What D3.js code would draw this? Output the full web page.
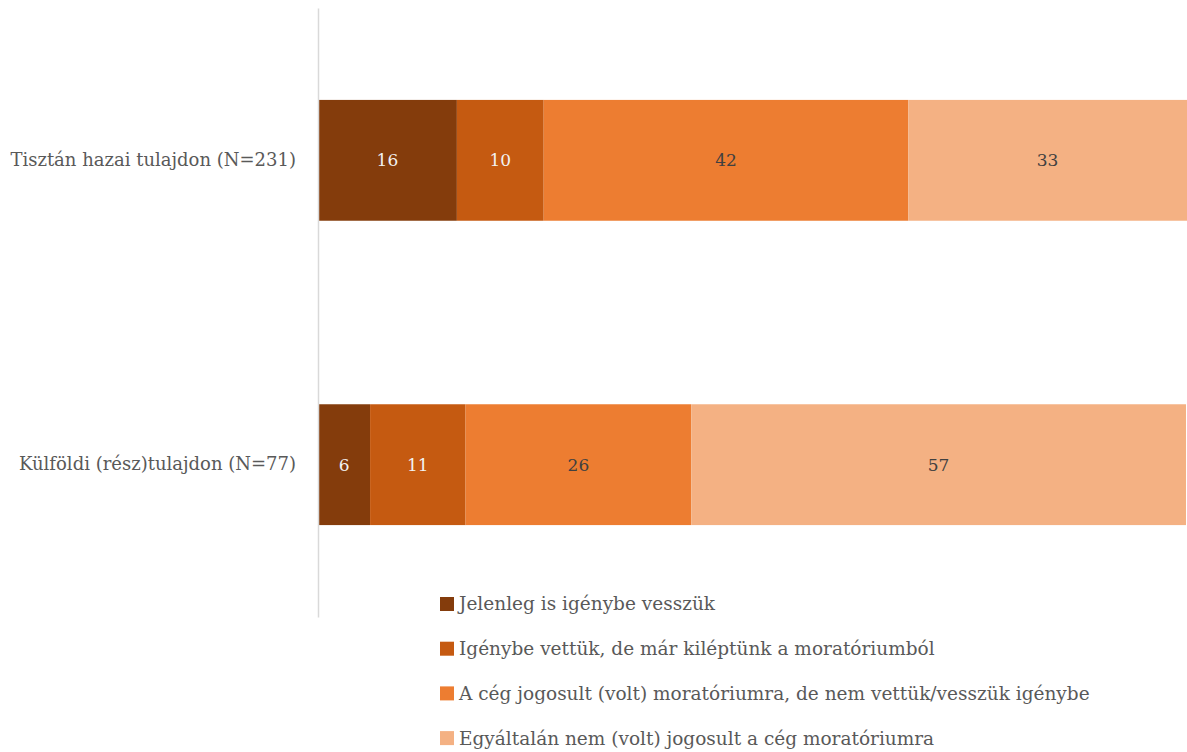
<!DOCTYPE html>
<html>
<head>
<meta charset="utf-8">
<script src="https://cdn.jsdelivr.net/npm/d3@7"></script>
<style>
  body { margin: 0; background: #fff; }
  svg { display: block; }
</style>
</head>
<body>
<div id="chart"></div>
<script>
const categories = ["Tisztán hazai tulajdon (N=231)", "Külföldi (rész)tulajdon (N=77)"];
const seriesNames = [
  "Jelenleg is igénybe vesszük",
  "Igénybe vettük, de már kiléptünk a moratóriumból",
  "A cég jogosult (volt) moratóriumra, de nem vettük/vesszük igénybe",
  "Egyáltalán nem (volt) jogosult a cég moratóriumra"
];
const hazaiValues = [16, 10, 42, 33];
const kulfoldiValues = [6, 11, 26, 57];
const colors = ["#843C0C", "#C55A11", "#ED7D31", "#F4B183"];
const labelColors = ["#f2f2f2", "#f2f2f2", "#404040", "#404040"];

const width = 1187, height = 752;
const font = "'DejaVu Serif', 'Liberation Serif', serif";

const svg = d3.select("#chart")
  .append("svg")
    .attr("width", width)
    .attr("height", height);

const rows = [
  { name: categories[0], values: hazaiValues },
  { name: categories[1], values: kulfoldiValues }
];

const x = d3.scaleLinear()
  .domain([0, 100])
  .range([318, 1186]);

const y = d3.scaleBand()
  .domain(categories)
  .range([8, 617])
  .paddingInner(0.603)
  .paddingOuter(0.302);

// build segments with running totals
const segments = [];
rows.forEach(r => {
  let acc = 0;
  r.values.forEach((v, i) => {
    segments.push({ cat: r.name, i, v, x0: acc, x1: acc + v });
    acc += v;
  });
});

svg.selectAll("rect.seg")
  .data(segments)
  .join("rect")
    .attr("class", "seg")
    .attr("x", d => x(d.x0))
    .attr("y", d => y(d.cat))
    .attr("width", d => x(d.x1) - x(d.x0))
    .attr("height", y.bandwidth())
    .attr("fill", d => colors[d.i]);

svg.selectAll("text.seg_label")
  .data(segments)
  .join("text")
    .attr("class", "seg_label")
    .attr("x", d => (x(d.x0) + Math.min(x(d.x1), width)) / 2)
    .attr("y", d => y(d.cat) + y.bandwidth() / 2)
    .attr("dy", "0.35em")
    .attr("text-anchor", "middle")
    .style("font-family", font)
    .style("font-size", "17px")
    .attr("fill", d => labelColors[d.i])
    .text(d => d.v);

// vertical category axis
const yAxis = svg.append("g")
  .attr("transform", `translate(${x(0)},0)`)
  .call(d3.axisLeft(y).tickSize(0).tickPadding(22));
yAxis.select(".domain")
  .attr("stroke", "#d9d9d9")
  .attr("stroke-width", 1.5);
yAxis.selectAll("text")
  .style("font-family", font)
  .style("font-size", "18px")
  .attr("fill", "#595959");

// legend
const legend = svg.append("g")
  .attr("transform", "translate(440,604)");

const item = legend.selectAll("g")
  .data(seriesNames)
  .join("g")
    .attr("transform", (d, i) => `translate(0, ${i * 44.7})`);

item.append("rect")
  .attr("x", 0)
  .attr("y", -7)
  .attr("width", 14)
  .attr("height", 14)
  .attr("fill", (d, i) => colors[i]);

item.append("text")
  .attr("x", 19)
  .attr("y", 0)
  .attr("dy", "0.35em")
  .style("font-family", font)
  .style("font-size", "18.5px")
  .attr("fill", "#595959")
  .text(d => d);
</script>
</body>
</html>
